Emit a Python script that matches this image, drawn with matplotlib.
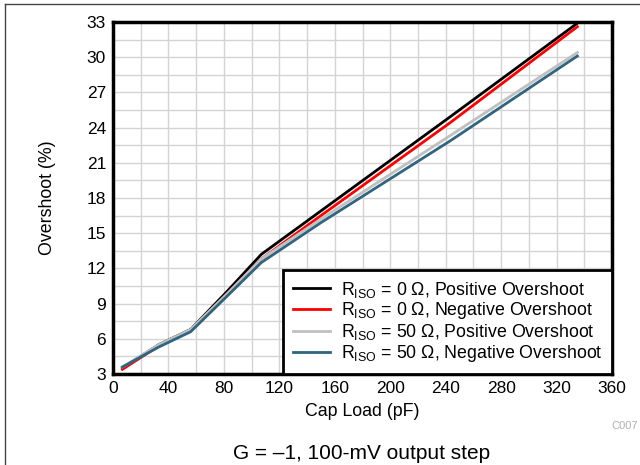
import matplotlib
matplotlib.use("Agg")
from matplotlib import pyplot as plt
from matplotlib.lines import Line2D
from matplotlib.ticker import MultipleLocator

plt.rcParams['font.family'] = ['Liberation Sans', 'DejaVu Sans']
plt.rcParams['mathtext.fontset'] = 'custom'
plt.rcParams['mathtext.rm'] = 'Liberation Sans'

# data
cap_load = [6.8, 33, 56, 82, 107, 150, 243, 335]
pos_0 = [3.5, 5.5, 6.8, 10.0, 13.2, 16.9, 24.9, 32.9]
neg_0 = [3.4, 5.4, 6.7, 9.8, 12.8, 16.5, 24.4, 32.6]
pos_50 = [3.6, 5.5, 6.8, 9.8, 12.8, 16.2, 23.3, 30.4]
neg_50 = [3.6, 5.3, 6.6, 9.6, 12.5, 15.9, 22.85, 30.1]

labels = ["R$_{\\mathregular{ISO}}$ = 0 \u03a9, Positive Overshoot",
          "R$_{\\mathregular{ISO}}$ = 0 \u03a9, Negative Overshoot",
          "R$_{\\mathregular{ISO}}$ = 50 \u03a9, Positive Overshoot",
          "R$_{\\mathregular{ISO}}$ = 50 \u03a9, Negative Overshoot"]
colors = ['black', '#ff0000', '#c0c0c0', '#2f6580']

fig = plt.figure(figsize=(6.4, 4.65), dpi=100)
ax = fig.add_axes([0.1766, 0.1957, 0.7797, 0.757])

for ys, lab, col in zip([pos_0, neg_0, pos_50, neg_50], labels, colors):
    ax.plot(cap_load, ys, color=col, linewidth=2, label=lab)

ax.set_xlim(0, 360)
ax.set_ylim(3, 33)
ax.xaxis.set_major_locator(MultipleLocator(40))
ax.xaxis.set_minor_locator(MultipleLocator(20))
ax.yaxis.set_major_locator(MultipleLocator(3))
ax.yaxis.set_minor_locator(MultipleLocator(1.5))
ax.grid(which='both', color='#d4d4d4', linewidth=1)
ax.set_axisbelow(True)
ax.tick_params(which='both', length=0, labelsize=12.5, pad=5)
for s in ax.spines.values():
    s.set_linewidth(2.5)
    s.set_color('black')

ax.set_xlabel('Cap Load (pF)', fontsize=12.8, labelpad=5)
ax.set_ylabel('Overshoot (%)', fontsize=12.8, labelpad=22)

leg = ax.legend(loc='lower right', fontsize=12.8, fancybox=False, framealpha=1,
                edgecolor='black', borderaxespad=0, handlelength=2.1,
                handletextpad=0.6, labelspacing=0.05, borderpad=0.55)
leg.get_frame().set_linewidth(2)

fig.text(0.565, 0.012, 'G = \u20131, 100-mV output step', ha='center', fontsize=15)
fig.text(0.997, 0.078, 'C007', ha='right', fontsize=8, color='#b0b0b0')

fig.add_artist(Line2D([0.008, 0.008], [0, 0.992], color='#444444', linewidth=1))
fig.add_artist(Line2D([0.008, 1], [0.992, 0.992], color='#444444', linewidth=1))

plt.savefig('out.png', dpi=100)
